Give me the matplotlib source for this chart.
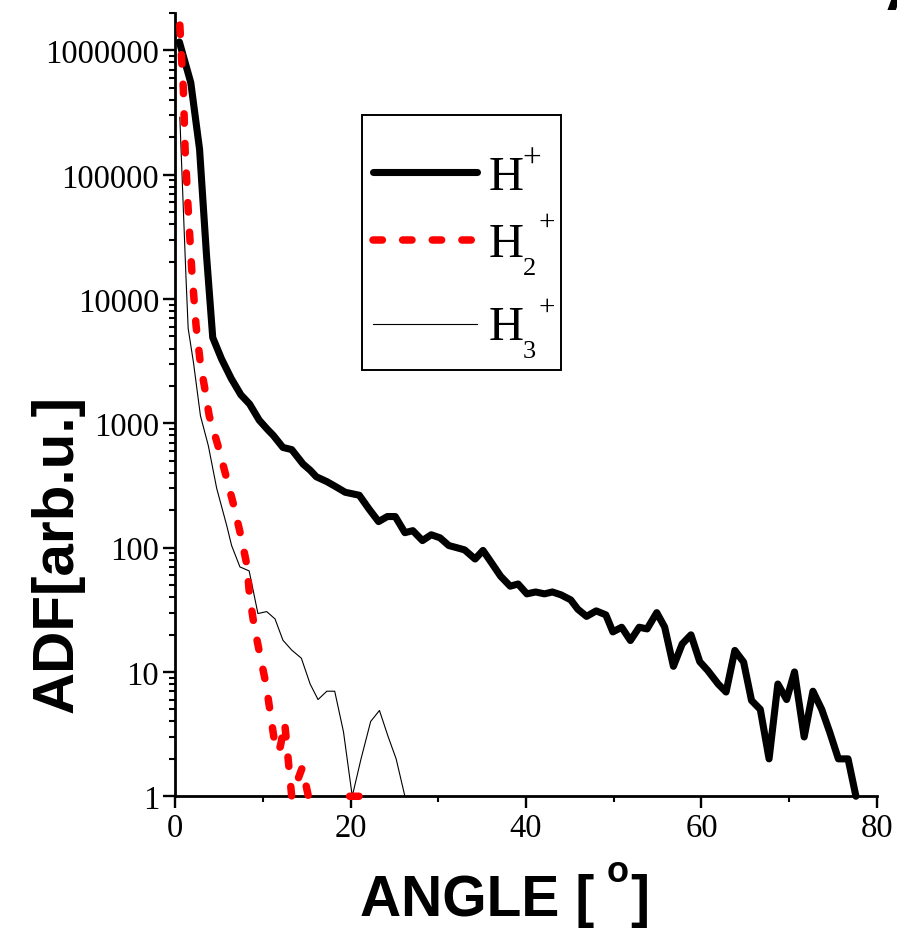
import matplotlib
matplotlib.use("Agg")
import matplotlib.pyplot as plt
import numpy as np
from matplotlib.lines import Line2D
from matplotlib.patches import Rectangle
from matplotlib.ticker import FixedLocator, FuncFormatter, LogLocator, NullFormatter

# angular distribution, scattered H+ ions
H1_ANGLE = [0.5, 1.8, 2.8, 3.6, 4.3, 5.3, 6.4, 7.5, 8.5, 9.6,
            10.5, 11.2, 12.3, 13.3, 14.6, 15.4, 16.1, 17.3, 18.3, 19.4,
            21.0, 22.1, 23.2, 24.2, 25.1, 26.2, 27.1, 28.2, 29.2, 30.2,
            31.2, 32.1, 33.0, 34.2, 35.1, 36.1, 37.1, 38.2, 39.1, 40.1,
            41.1, 42.1, 43.0, 44.0, 45.1, 45.9, 46.9, 48.0, 49.1, 49.9,
            50.9, 51.9, 52.9, 53.8, 54.9, 55.8, 56.8, 57.8, 58.8, 59.8,
            60.7, 61.9, 62.8, 63.8, 64.8, 65.7, 66.7, 67.7, 68.7, 69.7,
            70.6, 71.7, 72.7, 73.7, 74.6, 75.6, 76.7, 77.6]
H1_ADF = [1.17e6, 5.5e5, 1.6e5, 2.2e4, 4900, 3300, 2300, 1700, 1430, 1060,
          900, 800, 640, 615, 470, 420, 372, 340, 310, 279,
          264, 205, 162, 178, 178, 132, 137, 114, 127, 120,
          104, 100, 96, 81, 95, 75, 59, 49, 51, 42.5,
          44, 42.5, 44, 41.7, 38, 32, 28, 31, 28.8, 21,
          22.9, 17.9, 22.9, 22.2, 30, 23, 11.1, 16.8, 19.9, 12.1,
          10.3, 8.0, 6.9, 14.9, 12, 5.9, 5.0, 2.0, 8.0, 6.0,
          10, 3.0, 7, 5, 3.3, 2.0, 2.0, 1.0]

# H2+ (NaN = empty bins, line broken there)
H2_ANGLE = [0.55, 0.75, 0.95, 1.15, 1.5, 1.9, 2.4, 2.9, 3.4, 3.9,
            4.9, 5.8, 6.7, 7.5, 8.2, 8.5, 9.0, 9.7, 10.4, 11.0,
            11.5, 12.0, 12.5, 13.3, 14.5, 15.2, 16.5, np.nan, 19.9, 21.4]
H2_ADF = [1.6e6, 8.6e5, 4.9e5, 1.6e5, 5.3e4, 1.75e4, 6100, 3000, 1900, 1150,
          660, 380, 218, 125, 72, 41, 24, 13.5, 7.8, 4.0,
          2.3, 2.5, 3.9, 1.0, 1.7, 1.0, 1.0, np.nan, 1.0, 1.0]

# H3+
H3_ANGLE = [0.55, 0.95, 1.25, 1.5, 2.1, 2.9, 3.8, 4.75, 5.9, 6.45,
            7.4, 8.45, 9.45, 10.45, 11.4, 12.3, 13.3, 14.4, 15.4, 16.3,
            17.3, 18.2, 19.2, 20.2, 21.2, 22.3, 23.3, 24.3, 25.2, 26.2]
H3_ADF = [2.9e5, 5.3e4, 1.5e4, 5800, 3100, 1150, 660, 300, 150, 104,
          70, 65, 29.5, 30.6, 26.7, 18, 15, 12.9, 8.0, 6.0,
          7.0, 7.0, 3.3, 1.0, 2.0, 4.0, 4.9, 3.0, 2.0, 1.0]

Y_TICKS = [1, 10, 100, 1000, 10000, 100000, 1000000]
X_TICKS = [0, 20, 40, 60, 80]
X_MINOR = [10, 30, 50, 70]

# ion label pieces: subscript per species
ION_SUB = ["", "2", "3"]

STYLE_H1 = dict(color="black", lw=5.1, solid_capstyle="round",
                solid_joinstyle="round")
STYLE_H2 = dict(color="#ff0000", lw=5.4, ls=(0, (1.25, 2.7)),
                dash_capstyle="round", dash_joinstyle="round")
STYLE_H3 = dict(color="black", lw=0.8)

W, H = 897, 929
fig = plt.figure(figsize=(W / 100, H / 100), dpi=100)
ax = fig.add_axes([0.1951, 0.1418, 0.7826, 0.8431])

ax.plot(H1_ANGLE, H1_ADF, clip_on=False, zorder=3, **STYLE_H1)
ax.plot(H2_ANGLE, H2_ADF, clip_on=False, zorder=4, **STYLE_H2)
ax.plot(H3_ANGLE, H3_ADF, clip_on=False, zorder=2, **STYLE_H3)

ax.set_yscale("log")
ax.set_xlim(0, 80)
ax.set_ylim(1, 2.0e6)

ax.yaxis.set_major_locator(FixedLocator(Y_TICKS))
ax.yaxis.set_major_formatter(FuncFormatter(lambda v, p: f"{int(round(v))}"))
ax.yaxis.set_minor_locator(LogLocator(base=10, subs=np.arange(2, 10), numticks=20))
ax.yaxis.set_minor_formatter(NullFormatter())
ax.xaxis.set_major_locator(FixedLocator(X_TICKS))
ax.xaxis.set_minor_locator(FixedLocator(X_MINOR))

for side in ("top", "right"):
    ax.spines[side].set_visible(False)
for side in ("left", "bottom"):
    ax.spines[side].set_linewidth(2.0)

ax.tick_params(which="major", direction="out", length=8.5, width=1.7, pad=3,
               labelsize=23.5, top=False, right=False)
ax.tick_params(which="minor", direction="out", length=4.2, width=1.5,
               top=False, right=False)
for lab in ax.get_xticklabels() + ax.get_yticklabels():
    lab.set_fontfamily("Liberation Serif")


def fx(px):
    return px / W


def fy(py):
    return 1 - py / H


# axis titles
fig.text(fx(58), fy(554), "ADF[arb.u.]", rotation=90, ha="center",
         va="center", fontsize=42, fontweight="bold", family="Liberation Sans")
bold = dict(fontsize=41, fontweight="bold", family="Liberation Sans")
fig.text(fx(360), fy(916), "ANGLE [", ha="left", va="baseline", **bold)
fig.text(fx(630), fy(916), "]", ha="left", va="baseline", **bold)
fig.text(fx(618), fy(873), "o", ha="center", va="center", fontsize=26,
         fontweight="bold", family="Liberation Sans")
# panel letter, mostly outside the canvas
fig.text(fx(886), fy(10), "A", ha="left", va="baseline", fontsize=42,
         fontweight="bold", family="Liberation Sans")

# legend box
fig.add_artist(Rectangle((fx(362.3), fy(370.7)), fx(560.7) - fx(362.3),
                         fy(116) - fy(370.7), transform=fig.transFigure,
                         facecolor="white", edgecolor="black", lw=1.4,
                         zorder=5))
rows_y = [172.7, 241, 325]
base_y = [190, 256.7, 340]
plus_xy = [(532, 160), (547, 223), (547, 307.5)]
plus_size = [24, 21, 21]
for style, ry, by, sub, (px, py), ps in zip(
        (STYLE_H1, STYLE_H2, STYLE_H3), rows_y, base_y, ION_SUB,
        plus_xy, plus_size):
    fig.add_artist(Line2D([fx(373), fx(477)], [fy(ry), fy(ry)],
                          transform=fig.transFigure, zorder=6, **style))
    fig.text(fx(489), fy(by), "H", ha="left", va="baseline", fontsize=35,
             family="Liberation Serif", zorder=6)
    if sub:
        fig.text(fx(522.5), fy(by + 18.5), sub, ha="left", va="baseline",
                 fontsize=19, family="Liberation Serif", zorder=6)
    fig.text(fx(px), fy(py), "+", ha="center", va="center", fontsize=ps,
             family="Liberation Serif", zorder=6)

fig.savefig("out.png", dpi=100)
